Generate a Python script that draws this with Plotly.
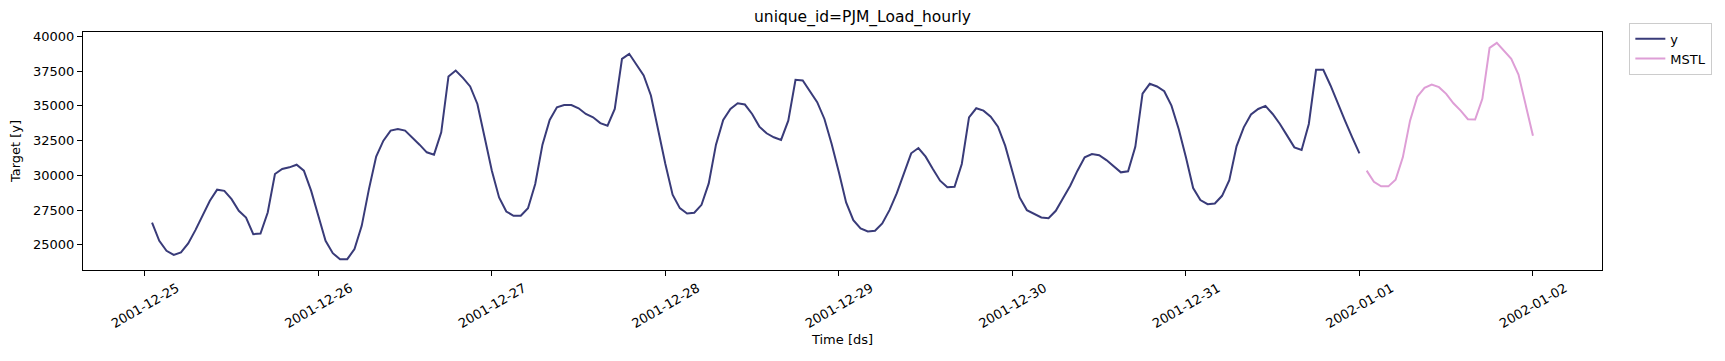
import pandas as pd
import plotly.graph_objects as go

y_start = "2001-12-25 01:00"
mstl_start = "2002-01-01 01:00"

y_values = [
    26600, 25290, 24570, 24280, 24450, 25100, 26060, 27090, 28170, 28970, 28890, 28290,
    27450, 26970, 25770, 25820, 27330, 30100, 30460, 30580, 30770, 30340, 28900, 27090,
    25290, 24400, 23970, 23970, 24690, 26370, 29010, 31350, 32500, 33220, 33340, 33220,
    32740, 32210, 31660, 31490, 33100, 37120, 37550, 37020, 36400, 35140, 32740, 30340,
    28410, 27400, 27090, 27090, 27640, 29380, 32210, 33990, 34900, 35060, 35060, 34830,
    34420, 34180, 33760, 33580, 34780, 38390, 38750, 37980, 37190, 35750, 33220, 30820,
    28610, 27640, 27260, 27310, 27880, 29420, 32210, 33990, 34780, 35190, 35100, 34420,
    33510, 33030, 32740, 32550, 33940, 36880, 36830, 36060, 35270, 34060, 32260, 30220,
    28050, 26780, 26180, 25960, 26010, 26540, 27500, 28700, 30140, 31590, 31970, 31350,
    30460, 29620, 29140, 29180, 30820, 34180, 34830, 34660, 34230, 33510, 32140, 30220,
    28410, 27500, 27210, 26970, 26920, 27450, 28360, 29260, 30340, 31300, 31540, 31450,
    31100, 30650, 30220, 30290, 32050, 35890, 36590, 36400, 36060, 35020, 33340, 31300,
    29090, 28220, 27930, 27980, 28530, 29660, 32090, 33460, 34380, 34780, 35000, 34420,
    33700, 32860, 32020, 31830, 33700, 37600, 37600, 36470, 35140, 33940, 32740, 31590,
]

mstl_values = [
    30340, 29540, 29210, 29210, 29690, 31300, 33940, 35670, 36300, 36540, 36350, 35870,
    35190, 34660, 34040, 34020, 35510, 39180, 39540, 38990, 38390, 37260, 35100, 32860,
]

tick_dates = ["2001-12-25", "2001-12-26", "2001-12-27", "2001-12-28", "2001-12-29",
              "2001-12-30", "2001-12-31", "2002-01-01", "2002-01-02"]
y_ticks = [25000, 27500, 30000, 32500, 35000, 37500, 40000]

y_time = pd.date_range(y_start, periods=len(y_values), freq="h")
mstl_time = pd.date_range(mstl_start, periods=len(mstl_values), freq="h")

FONT = "DejaVu Sans"

fig = go.Figure()
fig.add_trace(go.Scatter(x=y_time, y=y_values, mode="lines", name="y",
                         line=dict(color="#393b79", width=2)))
fig.add_trace(go.Scatter(x=mstl_time, y=mstl_values, mode="lines", name="MSTL",
                         line=dict(color="#de9ed6", width=2)))

fig.update_layout(
    width=1725, height=361,
    margin=dict(l=83, r=123, t=32, b=91),
    paper_bgcolor="white", plot_bgcolor="white",
    font=dict(family=FONT, size=13, color="black"),
    title=dict(text="unique_id=PJM_Load_hourly", x=0.5, xanchor="center",
               y=1 - 17 / 361, yanchor="middle", font=dict(size=15.5, family=FONT)),
    showlegend=True,
    legend=dict(x=1.018, y=1.039, xanchor="left", yanchor="top",
                bordercolor="#cccccc", borderwidth=1, bgcolor="white",
                font=dict(size=13, family=FONT), tracegroupgap=0),
)

fig.update_xaxes(
    range=["2001-12-24 15:27", "2002-01-02 09:33"],
    tickvals=pd.to_datetime(tick_dates), ticktext=tick_dates,
    tickangle=-30, ticks="outside", ticklen=5, tickcolor="black",
    showline=True, linecolor="black", linewidth=1, mirror=True,
    showgrid=False, zeroline=False,
    title=dict(text="Time [ds]", font=dict(size=13, family=FONT), standoff=4),
    ticklabelshift=32,
)
fig.update_yaxes(
    range=[23190, 40320],
    tickvals=y_ticks, ticktext=[str(v) for v in y_ticks],
    ticks="outside", ticklen=5, tickcolor="black",
    showline=True, linecolor="black", linewidth=1, mirror=True,
    showgrid=False, zeroline=False,
    title=dict(text="Target [y]", font=dict(size=13, family=FONT), standoff=9),
)

fig.write_html("out.html",
               config={"displayModeBar": False},
               post_script="document.body.style.margin='0';document.body.style.overflow='hidden';")
